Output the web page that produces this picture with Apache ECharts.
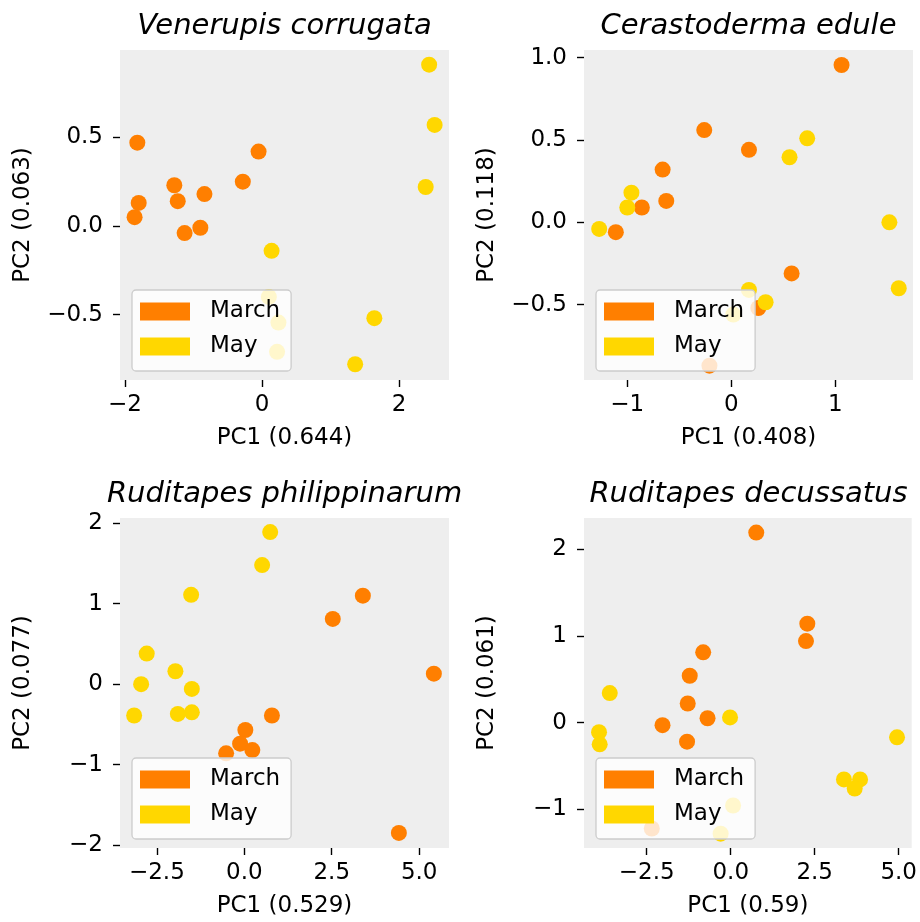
<!DOCTYPE html>
<html>
<head>
<meta charset="utf-8">
<script src="https://cdn.jsdelivr.net/npm/echarts@6/dist/echarts.min.js"></script>
<style>
  html, body { margin: 0; padding: 0; background: #fff; }
  #chart { width: 920px; height: 922px; }
</style>
</head>
<body>
<div id="chart"></div>
<script>
// species panels, in reading order
var titles = ['Venerupis corrugata', 'Cerastoderma edule', 'Ruditapes philippinarum', 'Ruditapes decussatus'];
var xNames = ['PC1 (0.644)', 'PC1 (0.408)', 'PC1 (0.529)', 'PC1 (0.59)'];
var yNames = ['PC2 (0.063)', 'PC2 (0.118)', 'PC2 (0.077)', 'PC2 (0.061)'];
var months = ['March', 'May'];

// [PC1, PC2] scores per month
var corrugataMarch = [[-1.82, 0.47], [-0.05, 0.42], [-0.28, 0.25], [-1.28, 0.23], [-0.84, 0.18],
  [-1.80, 0.13], [-1.23, 0.14], [-1.86, 0.05], [-0.90, -0.01], [-1.13, -0.04]];
var corrugataMay = [[2.44, 0.91], [2.52, 0.57], [2.39, 0.22], [0.14, -0.14], [0.10, -0.40],
  [0.24, -0.545], [0.22, -0.71], [1.64, -0.52], [1.36, -0.78]];

var eduleMarch = [[1.06, 0.955], [-0.26, 0.56], [0.17, 0.44], [-0.66, 0.32], [-0.625, 0.13],
  [-0.86, 0.09], [-1.11, -0.06], [0.58, -0.31], [0.26, -0.52], [-0.21, -0.87]];
var eduleMay = [[0.73, 0.51], [0.56, 0.395], [-0.96, 0.18], [-1.00, 0.09], [-1.27, -0.04],
  [1.52, 0.0], [1.61, -0.40], [0.17, -0.41], [0.33, -0.485], [0.02, -0.56]];

var philippinarumMarch = [[3.39, 1.10], [2.53, 0.81], [5.42, 0.13], [0.79, -0.39], [0.03, -0.57],
  [-0.12, -0.74], [0.23, -0.82], [-0.52, -0.86], [4.42, -1.85]];
var philippinarumMay = [[0.74, 1.89], [0.51, 1.48], [-1.52, 1.11], [-2.79, 0.38], [-1.97, 0.16],
  [-2.95, 0.0], [-1.50, -0.06], [-3.15, -0.39], [-1.90, -0.37], [-1.50, -0.35]];

var decussatusMarch = [[0.76, 2.19], [2.28, 1.14], [2.24, 0.94], [-0.82, 0.81], [-1.22, 0.54],
  [-1.28, 0.22], [-0.69, 0.05], [-2.03, -0.03], [-1.30, -0.22], [-2.35, -1.22]];
var decussatusMay = [[-3.60, 0.34], [-3.92, -0.11], [-3.90, -0.25], [-0.02, 0.06], [4.95, -0.17],
  [3.37, -0.655], [3.85, -0.655], [3.69, -0.76], [0.07, -0.955], [-0.30, -1.28]];

var marchData = [corrugataMarch, eduleMarch, philippinarumMarch, decussatusMarch];
var mayData = [corrugataMay, eduleMay, philippinarumMay, decussatusMay];

// axis ranges and tick positions
var xRanges = [[-2.073, 2.73], [-1.416, 1.747], [-3.554, 5.853], [-4.367, 5.387]];
var yRanges = [[-0.869, 0.993], [-0.957, 1.046], [-2.037, 2.065], [-1.445, 2.358]];
var xTicks = [[-2, 0, 2], [-1, 0, 1], [-2.5, 0, 2.5, 5], [-2.5, 0, 2.5, 5]];
var yTicks = [[-0.5, 0, 0.5], [-0.5, 0, 0.5, 1], [-2, -1, 0, 1, 2], [-1, 0, 1, 2]];
var xDecimals = [0, 0, 1, 1];
var yDecimals = [1, 1, 0, 0];

var colors = ['#ff7f00', '#ffd700'];
var font = 'DejaVu Sans';
var fs = 23;

var lefts = [120, 584, 120, 584];
var tops = [50, 50, 518, 518];
var W = 329, H = 330;

function fmt(d) {
  return function (v) { return Number(v).toFixed(d).replace('-', '\u2212'); };
}

function axis(kind, i) {
  var isX = kind === 'x';
  var r = isX ? xRanges[i] : yRanges[i];
  var ticks = isX ? xTicks[i] : yTicks[i];
  return {
    type: 'value',
    gridIndex: i,
    min: r[0],
    max: r[1],
    name: isX ? xNames[i] : yNames[i],
    nameLocation: 'middle',
    nameGap: isX ? 47 : 85,
    nameTextStyle: { fontFamily: font, fontSize: fs, color: '#000' },
    axisLine: { show: false, onZero: false },
    axisTick: { show: true, length: 7, customValues: ticks, lineStyle: { color: '#000', width: 1.4 } },
    axisLabel: {
      customValues: ticks,
      margin: isX ? 14 : 17,
      fontFamily: font, fontSize: fs, color: '#000',
      formatter: fmt(isX ? xDecimals[i] : yDecimals[i])
    },
    splitLine: { show: false }
  };
}

var grid = [], xAxis = [], yAxis = [], series = [], title = [], legend = [];
for (var i = 0; i < 4; i++) {
  grid.push({
    left: lefts[i], top: tops[i], width: W, height: H,
    show: true, backgroundColor: '#eeeeee', borderWidth: 0
  });
  xAxis.push(axis('x', i));
  yAxis.push(axis('y', i));
  title.push({
    text: titles[i],
    left: lefts[i] + W / 2,
    top: tops[i] - 38,
    textAlign: 'center',
    padding: 0,
    textStyle: { fontFamily: font, fontSize: 29, fontStyle: 'italic', fontWeight: 'normal', color: '#000' }
  });
  legend.push({
    data: months,
    orient: 'vertical',
    left: lefts[i] + 12,
    top: tops[i] + H - 90,
    icon: 'rect',
    itemWidth: 50,
    itemHeight: 18,
    itemGap: 12,
    padding: [10, 11, 13, 8],
    backgroundColor: 'rgba(255,255,255,0.8)',
    borderColor: '#cccccc',
    borderWidth: 1.3,
    borderRadius: 4,
    selectedMode: false,
    z: 10,
    textStyle: { fontFamily: font, fontSize: fs, color: '#000', padding: [0, 0, 0, 15] }
  });
  series.push({
    name: months[0], type: 'scatter', xAxisIndex: i, yAxisIndex: i,
    data: marchData[i], symbolSize: 16, itemStyle: { color: colors[0], opacity: 1 }
  });
  series.push({
    name: months[1], type: 'scatter', xAxisIndex: i, yAxisIndex: i,
    data: mayData[i], symbolSize: 16, itemStyle: { color: colors[1], opacity: 1 }
  });
}

var myChart = echarts.init(document.getElementById('chart'), null, { renderer: 'canvas' });
myChart.setOption({
  animation: false,
  color: colors,
  title: title,
  legend: legend,
  grid: grid,
  xAxis: xAxis,
  yAxis: yAxis,
  series: series
});
</script>
</body>
</html>
